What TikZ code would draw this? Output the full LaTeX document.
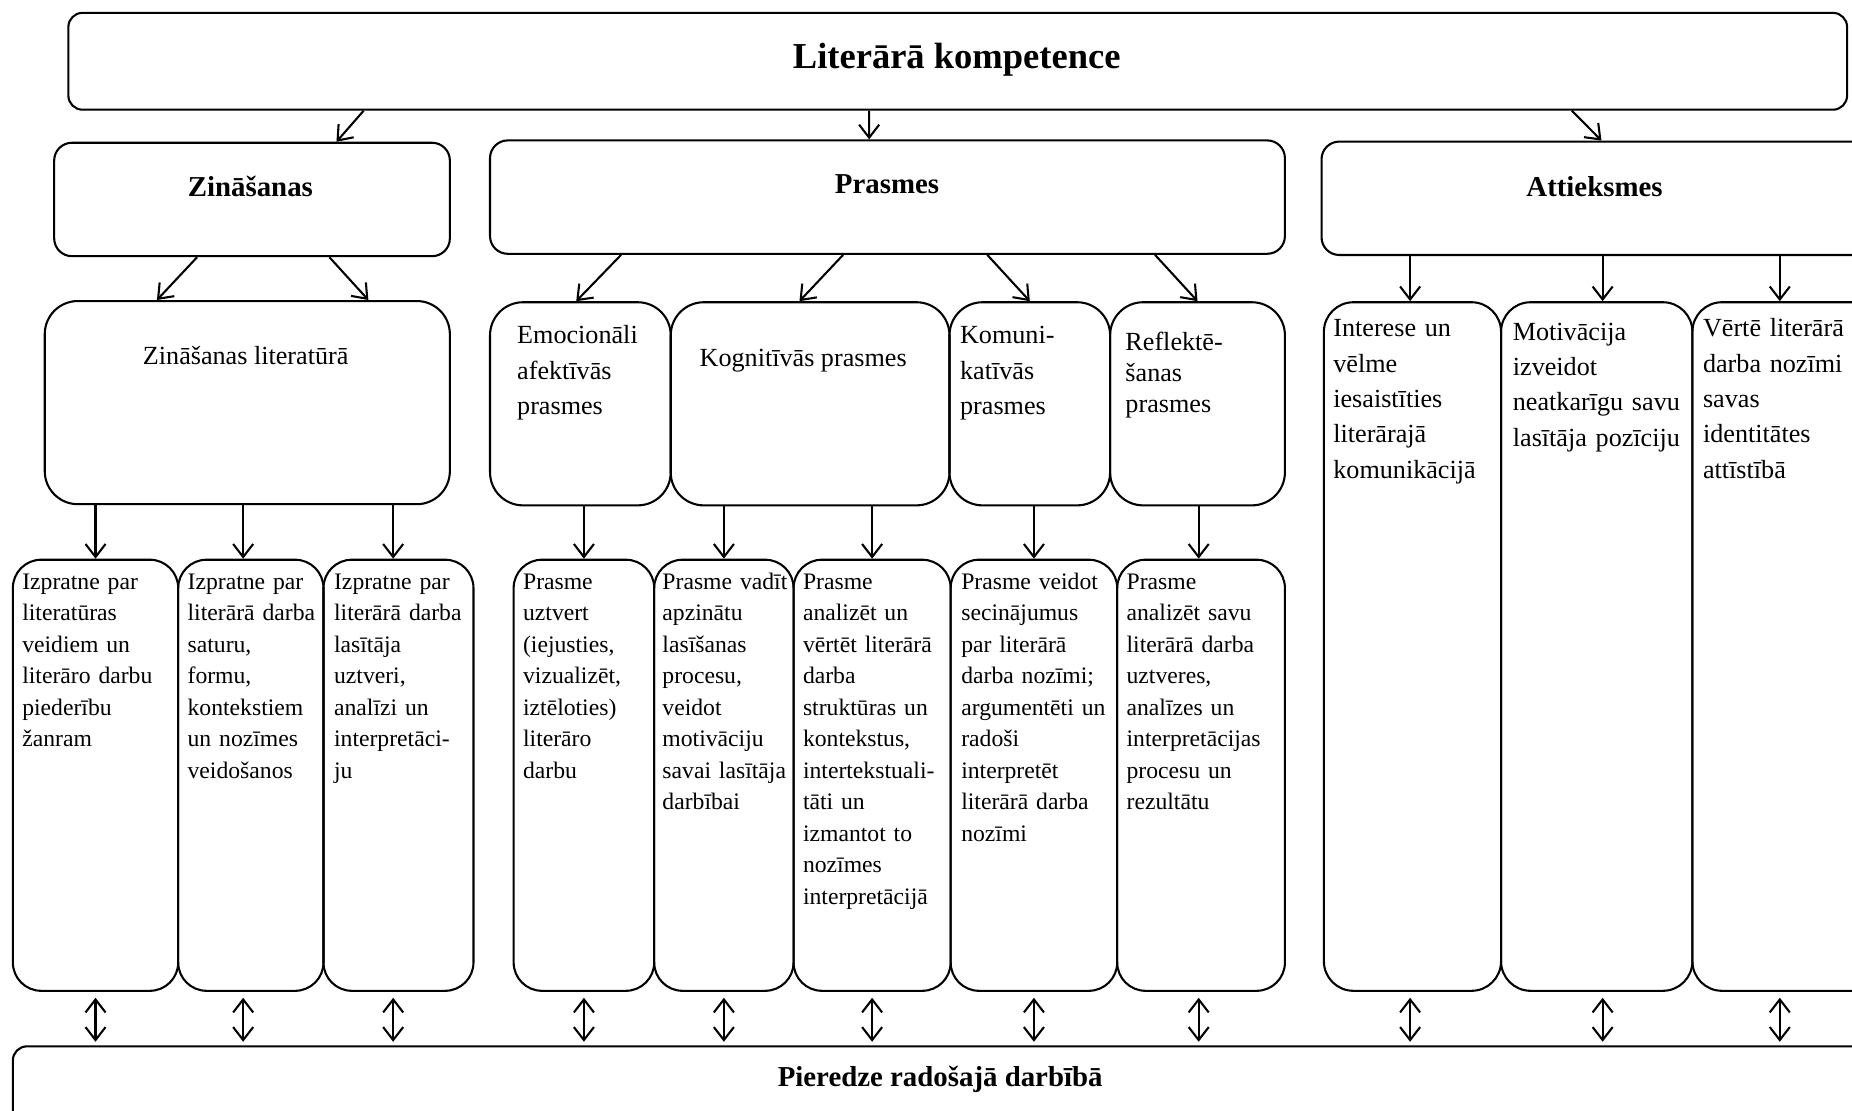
\documentclass[tikz,border=0pt]{standalone}
\usepackage{fontspec}
\setmainfont{Liberation Serif}
\usetikzlibrary{arrows.meta}

\begin{document}
\begin{tikzpicture}[x=0.1mm,y=-0.1mm,
  line width=0.5pt,
  >={Straight Barb[length=1.1mm,width=1.7mm]},
  rbox/.style={draw, anchor=north west, inner sep=0pt, rounded corners=#1},
  head/.style={anchor=base, inner sep=0pt, font=\bfseries\fontsize{6.95}{8}\selectfont},
  midtxt/.style={anchor=base west, inner sep=0pt, align=left, text width=40mm,
                 font=\fontsize{6.3}{8.53}\selectfont},
  midc/.style={anchor=base, inner sep=0pt, font=\fontsize{6.3}{8.53}\selectfont},
  lowtxt/.style={anchor=base west, inner sep=0pt, align=left, text width=40mm,
                 font=\fontsize{5.7}{7.58}\selectfont},
  both/.style={<->, shorten <=0.5mm, shorten >=0.3mm}]

\useasboundingbox (0,0) rectangle (1568,940);
\clip (0,0) rectangle (1568,940);

% top level
\node[rbox=1.2mm, minimum width=150.6mm, minimum height=8.2mm] (top) at (57,10) {};
\node[anchor=base, inner sep=0pt, font=\bfseries\fontsize{8.8}{10}\selectfont] (ttop) at (810,58) {Literārā kompetence};

% three components
\node[rbox=1.5mm, minimum width=33.5mm, minimum height=9.6mm] (zin) at (45,120) {};
\node[rbox=1.5mm, minimum width=67.3mm, minimum height=9.6mm] (pra) at (414,118) {};
\node[rbox=1.5mm, minimum width=50mm,   minimum height=9.6mm] (att) at (1118,119) {};
\node[head] (tzin) at (212,166) {Zināšanas};
\node[head] (tpra) at (751,164) {Prasmes};
\node[head] (tatt) at (1350,166) {Attieksmes};

% second row
\node[rbox=2.8mm, minimum width=34.3mm, minimum height=17.2mm] (zl)  at (37,254) {};
\node[rbox=2.8mm, minimum width=15.3mm, minimum height=17.2mm] (emo) at (414,255) {};
\node[rbox=2.8mm, minimum width=23.6mm, minimum height=17.2mm] (kog) at (567,255) {};
\node[rbox=2.8mm, minimum width=13.6mm, minimum height=17.2mm] (kom) at (803,255) {};
\node[rbox=2.8mm, minimum width=14.8mm, minimum height=17.2mm] (ref) at (939,255) {};
\node[midc] (tzl) at (208,309) {Zināšanas literatūrā};
\node[midtxt] (temo) at (437,291) {Emocionāli\\afektīvās\\prasmes};
\node[midc] (tkog) at (680,310) {Kognitīvās prasmes};
\node[midtxt] (tkom) at (812,291) {Komuni-\\katīvās\\prasmes};
\node[midtxt, font=\fontsize{6.3}{7.45}\selectfont] (tref) at (952,297) {Reflektē-\\šanas\\prasmes};

% attitudes columns
\node[rbox=2.5mm, minimum width=15mm,   minimum height=58.3mm] (a1) at (1120,255) {};
\node[rbox=2.5mm, minimum width=16.2mm, minimum height=58.3mm] (a2) at (1270,255) {};
\node[rbox=2.5mm, minimum width=20mm,   minimum height=58.3mm] (a3) at (1432,255) {};
\node[midtxt] (ta1) at (1128,285) {Interese un\\vēlme\\iesaistīties\\literārajā\\komunikācijā};
\node[midtxt] (ta2) at (1280,288) {Motivācija\\izveidot\\neatkarīgu savu\\lasītāja pozīciju};
\node[midtxt] (ta3) at (1441,285) {Vērtē literārā\\darba nozīmi\\savas\\identitātes\\attīstībā};

% third row
\node[rbox=2.4mm, minimum width=14mm,   minimum height=36.5mm] (l1) at (10,473) {};
\node[rbox=2.4mm, minimum width=12.3mm, minimum height=36.5mm] (l2) at (150,473) {};
\node[rbox=2.4mm, minimum width=12.7mm, minimum height=36.5mm] (l3) at (273,473) {};
\node[rbox=2.4mm, minimum width=11.9mm, minimum height=36.5mm] (p1) at (434,473) {};
\node[rbox=2.4mm, minimum width=11.8mm, minimum height=36.5mm] (p2) at (553,473) {};
\node[rbox=2.4mm, minimum width=13.3mm, minimum height=36.5mm] (p3) at (671,473) {};
\node[rbox=2.4mm, minimum width=14.1mm, minimum height=36.5mm] (p4) at (804,473) {};
\node[rbox=2.4mm, minimum width=14.2mm, minimum height=36.5mm] (p5) at (945,473) {};

\node[lowtxt] (tl1) at (18,499)  {Izpratne par\\literatūras\\veidiem un\\literāro darbu\\piederību\\žanram};
\node[lowtxt] (tl2) at (158,499) {Izpratne par\\literārā darba\\saturu,\\formu,\\kontekstiem\\un nozīmes\\veidošanos};
\node[lowtxt] (tl3) at (282,499) {Izpratne par\\literārā darba\\lasītāja\\uztveri,\\analīzi un\\interpretāci-\\ju};
\node[lowtxt] (tp1) at (442,499) {Prasme\\uztvert\\(iejusties,\\vizualizēt,\\iztēloties)\\literāro\\darbu};
\node[lowtxt] (tp2) at (560,499) {Prasme vadīt\\apzinātu\\lasīšanas\\procesu,\\veidot\\motivāciju\\savai lasītāja\\darbībai};
\node[lowtxt] (tp3) at (679,499) {Prasme\\analizēt un\\vērtēt literārā\\darba\\struktūras un\\kontekstus,\\intertekstuali-\\tāti un\\izmantot to\\nozīmes\\interpretācijā};
\node[lowtxt] (tp4) at (813,499) {Prasme veidot\\secinājumus\\par literārā\\darba nozīmi;\\argumentēti un\\radoši\\interpretēt\\literārā darba\\nozīmi};
\node[lowtxt] (tp5) at (953,499) {Prasme\\analizēt savu\\literārā darba\\uztveres,\\analīzes un\\interpretācijas\\procesu un\\rezultātu};

% base
\node[rbox=1.2mm, minimum width=160mm, minimum height=10mm] (bot) at (10,885) {};
\node[head] (tbot) at (796,920) {Pieredze radošajā darbībā};

% connectors: top level to components
\draw[->] ([xshift=-50.3mm]top.south) -- ([xshift=7.15mm]zin.north);
\draw[->] ([xshift=-7.5mm]top.south)  -- ([xshift=-1.55mm]pra.north);
\draw[->] ([xshift=52mm]top.south)    -- ([xshift=-1.3mm]att.north);

% components to second row
\draw[->] ([xshift=-4.65mm]zin.south) -- ([xshift=-7.65mm]zl.north);
\draw[->] ([xshift=6.55mm]zin.south)  -- ([xshift=10.25mm]zl.north);
\draw[->] ([xshift=-22.55mm]pra.south) -- ([xshift=-0.35mm]emo.north);
\draw[->] ([xshift=-3.75mm]pra.south)  -- ([xshift=-0.9mm]kog.north);
\draw[->] ([xshift=8.45mm]pra.south)   -- (kom.north);
\draw[->] ([xshift=22.65mm]pra.south)  -- (ref.north);
\draw[->] ([xshift=-0.2mm]a1.north |- att.south) -- ([xshift=-0.2mm]a1.north);
\draw[->] ([xshift=0.5mm]a2.north |- att.south)  -- ([xshift=0.5mm]a2.north);
\draw[->] ([xshift=-2.6mm]a3.north |- att.south) -- ([xshift=-2.6mm]a3.north);

% second row to third row
\draw[->] (l1.north |- zl.south) -- (l1.north);
\draw[->] ([xshift=-0.65mm]l2.north |- zl.south) -- ([xshift=-0.65mm]l2.north);
\draw[->] ([xshift=-0.45mm]l3.north |- zl.south) -- ([xshift=-0.45mm]l3.north);
\draw[->] (p1.north |- emo.south) -- (p1.north);
\draw[->] (p2.north |- kog.south) -- (p2.north);
\draw[->] (p3.north |- kog.south) -- (p3.north);
\draw[->] (p4.north |- kom.south) -- (p4.north);
\draw[->] ([xshift=-0.2mm]p5.north |- ref.south) -- ([xshift=-0.2mm]p5.north);

% two-way links with the base
\draw[both] (l1.south) -- (l1.south |- bot.north);
\draw[both] ([xshift=-0.65mm]l2.south) -- ([xshift=-0.65mm]l2.south |- bot.north);
\draw[both] ([xshift=-0.45mm]l3.south) -- ([xshift=-0.45mm]l3.south |- bot.north);
\draw[both] (p1.south) -- (p1.south |- bot.north);
\draw[both] (p2.south) -- (p2.south |- bot.north);
\draw[both] (p3.south) -- (p3.south |- bot.north);
\draw[both] (p4.south) -- (p4.south |- bot.north);
\draw[both] ([xshift=-0.2mm]p5.south) -- ([xshift=-0.2mm]p5.south |- bot.north);
\draw[both] ([xshift=-0.2mm]a1.south) -- ([xshift=-0.2mm]a1.south |- bot.north);
\draw[both] ([xshift=0.5mm]a2.south)  -- ([xshift=0.5mm]a2.south |- bot.north);
\draw[both] ([xshift=-2.6mm]a3.south) -- ([xshift=-2.6mm]a3.south |- bot.north);
\end{tikzpicture}
\end{document}
